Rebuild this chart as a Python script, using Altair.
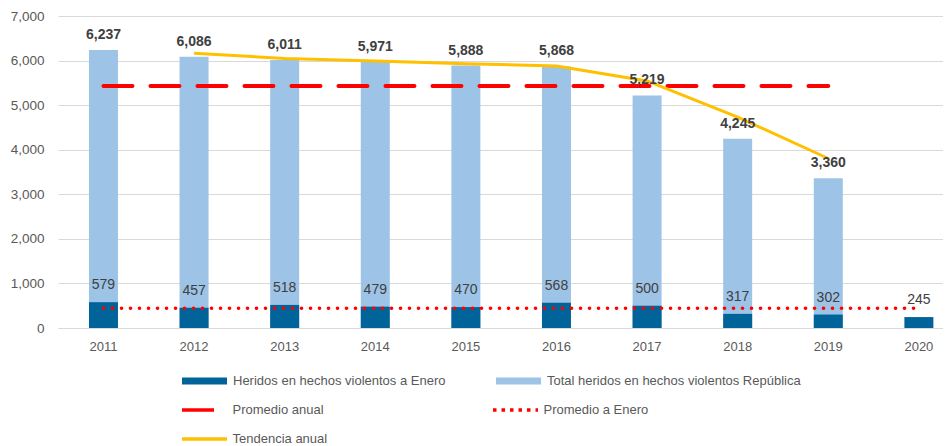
import altair as alt
import pandas as pd

# ---- data ----
years = ["2011", "2012", "2013", "2014", "2015", "2016", "2017", "2018", "2019", "2020"]
total_years = ["2011", "2012", "2013", "2014", "2015", "2016", "2017", "2018", "2019"]
total = [6237, 6086, 6011, 5971, 5888, 5868, 5219, 4245, 3360]
enero = [579, 457, 518, 479, 470, 568, 500, 317, 302, 245]
trend_years = ["2012", "2013", "2014", "2015", "2016", "2017", "2018", "2019"]
trend = [6162, 6049, 5991, 5930, 5878, 5544, 4732, 3803]
prom_anual_years = ["2011", "2019"]
prom_anual = [5432, 5432]
prom_enero_years = ["2011", "2020"]
prom_enero = [444, 444]

bar_series = ["Heridos en hechos violentos a Enero", "Total heridos en hechos violentos República"]
bar_colors = ["#00639A", "#9DC3E6"]
line_series = ["Promedio anual", "Promedio a Enero", "Tendencia anual"]
line_colors = ["#FF0000", "#FF0000", "#FFC000"]
line_dashes = [[32, 13], [3.5, 5], [1, 0]]

df_total = pd.DataFrame({"year": total_years, "v": total, "sb": bar_series[1]})
df_enero = pd.DataFrame({"year": years, "v": enero, "sb": bar_series[0]})
df_pa = pd.DataFrame({"year": prom_anual_years, "v": prom_anual, "sl": line_series[0]})
df_pe = pd.DataFrame({"year": prom_enero_years, "v": prom_enero, "sl": line_series[1]})
df_trend = pd.DataFrame({"year": trend_years, "v": trend, "sl": line_series[2]})
df_empty = pd.DataFrame({"year": pd.Series([], dtype=str), "v": pd.Series([], dtype=float),
                         "sl": pd.Series([], dtype=str)})

FONT = "Liberation Sans"
bar_path = "M-1,-0.16H1V0.16H-1Z"

common_leg = dict(
    title=None,
    orient="none",
    direction="horizontal",
    columns=2,
    rowPadding=9,
    clipHeight=20,
    symbolSize=2025,
    labelFontSize=13,
    labelColor="#595959",
    labelFont=FONT,
    labelLimit=0,
    padding=0,
)
legend_bars = alt.Legend(
    legendX=124, legendY=355, columnPadding=50, labelOffset=6,
    symbolType=bar_path, symbolStrokeWidth=0, **common_leg
)
legend_lines = alt.Legend(
    legendX=122, legendY=384, columnPadding=163, labelOffset=3.5,
    symbolType="stroke", symbolStrokeWidth=3.5, **common_leg
)

fill = alt.Fill("sb:N", scale=alt.Scale(domain=bar_series, range=bar_colors), legend=legend_bars)
stroke = alt.Stroke("sl:N", scale=alt.Scale(domain=line_series, range=line_colors), legend=legend_lines)
dash = alt.StrokeDash("sl:N", scale=alt.Scale(domain=line_series, range=line_dashes), legend=legend_lines)

xscale = alt.Scale(domain=years, paddingInner=0.68, paddingOuter=0.224, align=0.763)
yscale = alt.Scale(domain=[0, 7000], nice=False)

x = alt.X(
    "year:O",
    scale=xscale,
    axis=alt.Axis(
        title=None, labelAngle=0, ticks=False, domain=True, domainColor="#d9d9d9",
        labelPadding=12, labelFontSize=13, labelColor="#595959", labelFont=FONT, grid=False,
    ),
)
y = alt.Y(
    "v:Q",
    scale=yscale,
    axis=alt.Axis(
        title=None, values=list(range(0, 7001, 1000)), format=",d", grid=True,
        gridColor="#d9d9d9", domain=False, ticks=False, labelPadding=14,
        labelFontSize=13.5, labelColor="#595959", labelFont=FONT,
    ),
)

bars_total = alt.Chart(df_total).mark_bar().encode(x=x, y=y, fill=fill)
bars_enero = alt.Chart(df_enero).mark_bar().encode(x=x, y=y, fill=fill)
line_pa = alt.Chart(df_pa).mark_line(
    strokeWidth=4, strokeDash=[29, 18], strokeCap="round"
).encode(x=x, y=y, stroke=stroke)
line_pe = alt.Chart(df_pe).mark_line(
    strokeWidth=3.6, strokeDash=[0.1, 8.9], strokeCap="round"
).encode(x=x, y=y, stroke=stroke)
line_trend = alt.Chart(df_trend).mark_line(strokeWidth=3).encode(x=x, y=y, stroke=stroke)
legend_dummy = alt.Chart(df_empty).mark_line().encode(x=x, y=y, stroke=stroke, strokeDash=dash)

txt_total = alt.Chart(df_total).mark_text(
    dy=-15, baseline="middle", fontWeight="bold", fontSize=14, color="#404040", font=FONT
).encode(x=x, y=y, text=alt.Text("v:Q", format=","))
txt_enero = alt.Chart(df_enero).mark_text(
    dy=-17, baseline="middle", fontSize=14, color="#404040", font=FONT
).encode(x=x, y=y, text=alt.Text("v:Q", format=","))

chart = (
    alt.layer(bars_total, bars_enero, line_pa, line_pe, line_trend, legend_dummy,
              txt_total, txt_enero)
    .resolve_scale(fill="shared", stroke="shared")
    .properties(
        width=885,
        height=312,
        padding={"left": 50, "top": 8, "right": 0, "bottom": 118},
        autosize=alt.AutoSizeParams(type="none"),
        background="white",
    )
    .configure_view(stroke=None)
)

chart.save("out.html", embed_options={"renderer": "svg", "actions": False})
